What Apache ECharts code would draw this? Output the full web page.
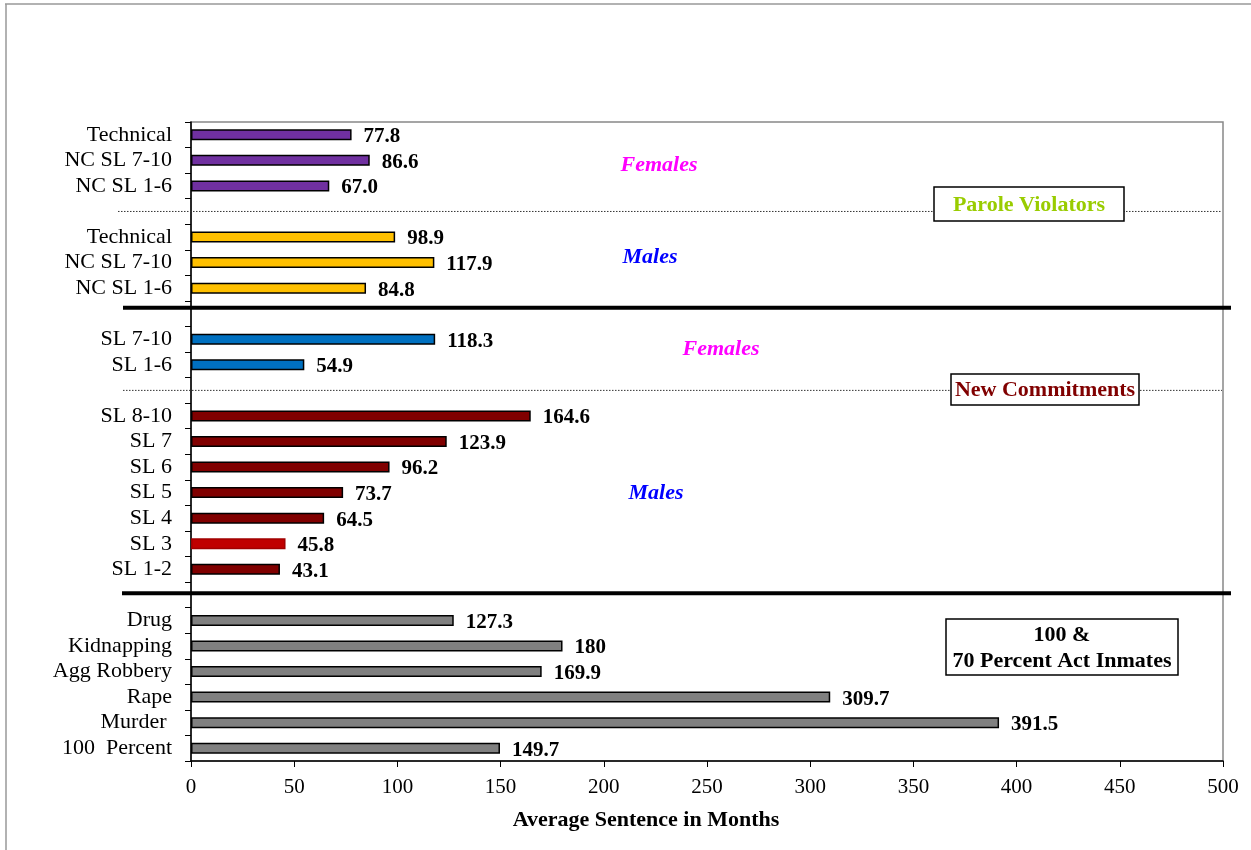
<!DOCTYPE html>
<html>
<head>
<meta charset="utf-8">
<script src="https://cdn.jsdelivr.net/npm/echarts@6/dist/echarts.min.js"></script>
<style>
  html, body { margin: 0; padding: 0; background: #fff; }
  #chart { width: 1251px; height: 850px; }
</style>
</head>
<body>
<div id="chart"></div>
<script>
// Average sentence (months) by offense group, top to bottom
const paroleFemaleCats = ['Technical', 'NC SL 7-10', 'NC SL 1-6'];
const paroleFemaleVals = ['77.8', '86.6', '67.0'];

const paroleMaleCats = ['Technical', 'NC SL 7-10', 'NC SL 1-6'];
const paroleMaleVals = ['98.9', '117.9', '84.8'];

const newFemaleCats = ['SL 7-10', 'SL 1-6'];
const newFemaleVals = ['118.3', '54.9'];

const newMaleCats = ['SL 8-10', 'SL 7', 'SL 6', 'SL 5', 'SL 4', 'SL 3', 'SL 1-2'];
const newMaleVals = ['164.6', '123.9', '96.2', '73.7', '64.5', '45.8', '43.1'];

const actCats = ['Drug', 'Kidnapping', 'Agg Robbery', 'Rape', 'Murder ', '100  Percent'];
const actVals = ['127.3', '180', '169.9', '309.7', '391.5', '149.7'];

const xTicks = [0, 50, 100, 150, 200, 250, 300, 350, 400, 450, 500];

const SERIF = "'Liberation Serif', 'Times New Roman', serif";

// Groups in drawing order, each followed by an empty separator row
const groups = [
  { cats: paroleFemaleCats, vals: paroleFemaleVals, color: '#7030A0' },
  { cats: paroleMaleCats, vals: paroleMaleVals, color: '#FFC000' },
  { cats: newFemaleCats, vals: newFemaleVals, color: '#0070C0' },
  { cats: newMaleCats, vals: newMaleVals, color: '#800000', special: { 'SL 3': { color: '#C00000', borderColor: '#A00000' } } },
  { cats: actCats, vals: actVals, color: '#808080' }
];

const categories = [];
const barData = [];
const labelTexts = [];
const gapRows = [];
groups.forEach((g, gi) => {
  g.cats.forEach((c, i) => {
    categories.push(c);
    labelTexts.push(g.vals[i]);
    const sp = g.special && g.special[c];
    barData.push({
      value: Number(g.vals[i]),
      itemStyle: {
        color: sp ? sp.color : g.color,
        borderColor: sp ? sp.borderColor : '#000',
        borderWidth: 1.5
      }
    });
  });
  if (gi < groups.length - 1) {
    gapRows.push(categories.length);
    categories.push('');
    labelTexts.push('');
    barData.push(null);
  }
});

const chart = echarts.init(document.getElementById('chart'), null, { renderer: 'canvas' });

chart.setOption({
  animation: false,
  backgroundColor: '#fff',
  grid: {
    left: 191, right: 28, top: 122, bottom: 89,
    show: true, borderColor: '#888', borderWidth: 1.5, backgroundColor: 'transparent'
  },
  xAxis: {
    type: 'value',
    min: xTicks[0], max: xTicks[xTicks.length - 1], interval: 50,
    name: 'Average Sentence in Months',
    nameLocation: 'middle', nameGap: 48,
    nameTextStyle: {
      fontFamily: SERIF, fontWeight: 'bold', fontSize: 22, color: '#000',
      padding: [0, 122, 0, 0]
    },
    axisLine: { show: true, lineStyle: { color: '#000', width: 1.5 } },
    axisTick: { show: true, length: 6, lineStyle: { color: '#000', width: 1 } },
    axisLabel: { fontFamily: SERIF, fontSize: 21, color: '#000', margin: 16 },
    splitLine: { show: false }
  },
  yAxis: {
    type: 'category',
    inverse: true,
    data: categories,
    axisLine: { show: true, lineStyle: { color: '#000', width: 1.5 } },
    axisTick: { show: true, length: 6, alignWithLabel: false, interval: 0, lineStyle: { color: '#000', width: 1 } },
    axisLabel: { fontFamily: SERIF, fontSize: 22, color: '#000', margin: 19, interval: 0 },
    splitLine: { show: false }
  },
  series: [{
    type: 'bar',
    data: barData,
    barWidth: 11,
    label: {
      show: true,
      position: 'right',
      distance: 12,
      offset: [0, 2],
      formatter: p => labelTexts[p.dataIndex],
      fontFamily: SERIF, fontWeight: 'bold', fontSize: 21, color: '#000'
    }
  }]
});

// Section dividers and annotations
const rowY = idx => chart.convertToPixel({ yAxisIndex: 0 }, idx);
const dividers = [
  { row: gapRows[0], dy: 0, x1: 118, x2: 1221, thick: false },
  { row: gapRows[1], dy: -6, x1: 123, x2: 1231, thick: true },
  { row: gapRows[2], dy: 0, x1: 123, x2: 1222, thick: false },
  { row: gapRows[3], dy: -1.5, x1: 122, x2: 1231, thick: true }
];

const graphics = [];
// page frame
graphics.push({ type: 'line', z: 10, shape: { x1: 5, y1: 4, x2: 1251, y2: 4 }, style: { stroke: '#999', lineWidth: 1.5 } });
graphics.push({ type: 'line', z: 10, shape: { x1: 6, y1: 4, x2: 6, y2: 850 }, style: { stroke: '#999', lineWidth: 1.5 } });

dividers.forEach(d => {
  const y = rowY(d.row) + d.dy;
  graphics.push({
    type: 'line', z: 50,
    shape: { x1: d.x1, y1: y, x2: d.x2, y2: y },
    style: d.thick
      ? { stroke: '#000', lineWidth: 4 }
      : { stroke: '#333', lineWidth: 1, lineDash: [1.5, 1.5] }
  });
});

const notes = [
  { text: 'Females', x: 659, y: 165, color: '#FF00FF' },
  { text: 'Males', x: 650, y: 257, color: '#0000FF' },
  { text: 'Females', x: 721, y: 349, color: '#FF00FF' },
  { text: 'Males', x: 656, y: 493, color: '#0000FF' }
];
notes.forEach(n => {
  graphics.push({
    type: 'text', z: 60, x: n.x, y: n.y,
    style: {
      text: n.text, fill: n.color, align: 'center', verticalAlign: 'middle',
      font: "italic bold 22px 'Liberation Serif', 'Times New Roman', serif"
    }
  });
});

const boxes = [
  { x: 934, y: 187, w: 190, h: 34, text: 'Parole Violators', color: '#99CC00' },
  { x: 951, y: 374, w: 188, h: 31, text: 'New Commitments', color: '#800000' },
  { x: 946, y: 619, w: 232, h: 56, text: '100 &\n70 Percent Act Inmates', color: '#000' }
];
boxes.forEach(b => {
  graphics.push({
    type: 'rect', z: 70,
    shape: { x: b.x, y: b.y, width: b.w, height: b.h },
    style: { fill: '#fff', stroke: '#000', lineWidth: 1.5 }
  });
  graphics.push({
    type: 'text', z: 71, x: b.x + b.w / 2, y: b.y + b.h / 2 + 1,
    style: {
      text: b.text, fill: b.color, align: 'center', verticalAlign: 'middle',
      lineHeight: 26,
      font: "bold 22px 'Liberation Serif', 'Times New Roman', serif"
    }
  });
});

chart.setOption({ graphic: graphics });
</script>
</body>
</html>
